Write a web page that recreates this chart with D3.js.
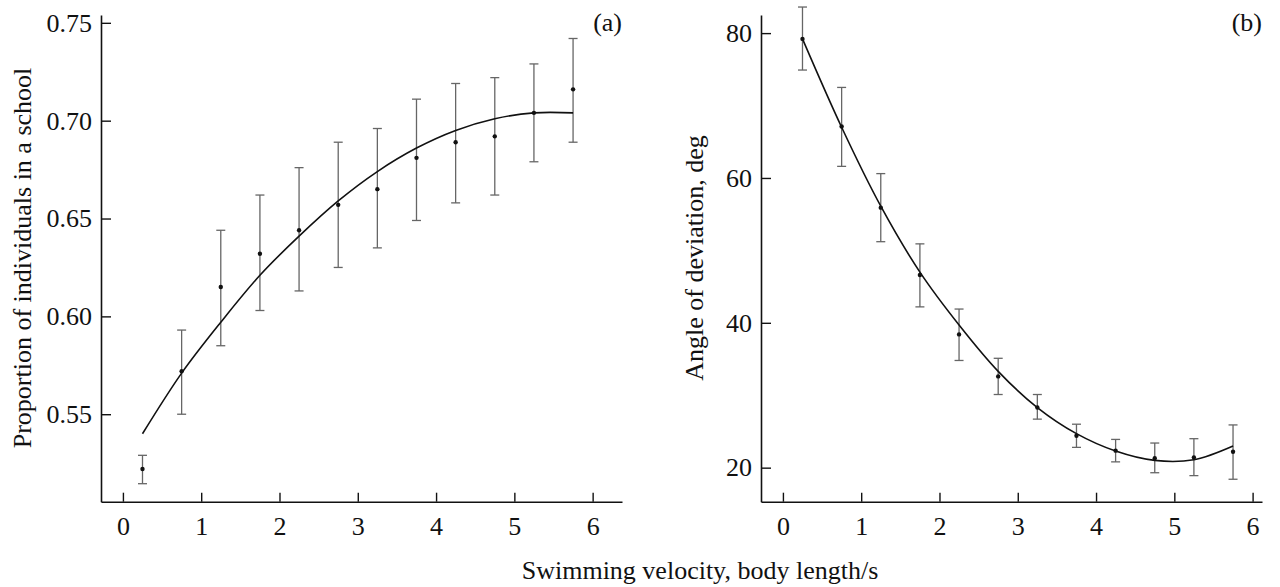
<!DOCTYPE html>
<html>
<head>
<meta charset="utf-8">
<script src="https://cdn.jsdelivr.net/npm/d3@7"></script>
<style>
  body { margin: 0; background: #fff; }
  svg text { font-family: "Liberation Serif", "Times New Roman", serif; fill: #111; }
</style>
</head>
<body>
<div id="chart"></div>
<script>
// swimming velocity (body length/s), same bins for both panels
let velocity = [0.25, 0.75, 1.25, 1.75, 2.25, 2.75, 3.25, 3.75, 4.25, 4.75, 5.25, 5.75]
let xTicks = [0, 1, 2, 3, 4, 5, 6]

// panel (a): proportion of individuals in a school
let propMean = [0.522, 0.572, 0.615, 0.632, 0.644, 0.657, 0.665, 0.681, 0.689, 0.692, 0.704, 0.716]
let propLow  = [0.5145, 0.550, 0.585, 0.603, 0.613, 0.625, 0.635, 0.649, 0.658, 0.662, 0.679, 0.689]
let propHigh = [0.529, 0.593, 0.644, 0.662, 0.676, 0.689, 0.696, 0.711, 0.719, 0.722, 0.729, 0.742]
let propFit  = [0.540, 0.571, 0.597, 0.621, 0.641, 0.659, 0.674, 0.686, 0.695, 0.701, 0.704, 0.704]
let propTicks = [0.55, 0.60, 0.65, 0.70, 0.75]

// panel (b): angle of deviation, deg
let angleMean = [79.2, 67.1, 55.9, 46.6, 38.4, 32.6, 28.3, 24.4, 22.35, 21.3, 21.4, 22.2]
let angleLow  = [74.9, 61.6, 51.2, 42.2, 34.8, 30.1, 26.7, 22.8, 20.8, 19.3, 18.9, 18.4]
let angleHigh = [83.6, 72.5, 60.6, 50.9, 41.9, 35.1, 30.1, 26.0, 23.9, 23.4, 24.0, 25.9]
let angleFit  = [79.2, 67.0, 56.1, 47.0, 39.7, 33.3, 28.3, 24.7, 22.3, 21.0, 21.1, 23.0]
let angleTicks = [20, 40, 60, 80]

let svgWidth = 1280, svgHeight = 587
let fontSize = 26

let svg = d3.select('#chart')
    .append('svg')
    .attr('width', svgWidth)
    .attr('height', svgHeight)

function panel(opts){
    let g = svg.append('g')

    let xScale = d3.scaleLinear()
        .domain([-0.28, opts.xMax])
        .range([opts.left, opts.right])

    let yScale = d3.scaleLinear()
        .domain(opts.yDomain)
        .range([501.7, 15])

    let rows = velocity.map((v, i) => ({x: v, m: opts.mean[i], lo: opts.low[i], hi: opts.high[i]}))

    // error bars with caps
    g.selectAll('.err')
        .data(rows)
        .join('line')
        .attr('x1', d => xScale(d.x))
        .attr('x2', d => xScale(d.x))
        .attr('y1', d => yScale(d.lo))
        .attr('y2', d => yScale(d.hi))
        .attr('stroke', '#666')
        .attr('stroke-width', 1.3)

    for(let key of ['lo', 'hi']){
        g.selectAll('.cap-' + key)
            .data(rows)
            .join('line')
            .attr('class', 'cap-' + key)
            .attr('x1', d => xScale(d.x) - 4.5)
            .attr('x2', d => xScale(d.x) + 4.5)
            .attr('y1', d => yScale(d[key]))
            .attr('y2', d => yScale(d[key]))
            .attr('stroke', '#666')
            .attr('stroke-width', 1.3)
    }

    // fitted curve
    g.append('path')
        .datum(velocity.map((v, i) => [v, opts.fit[i]]))
        .attr('fill', 'none')
        .attr('stroke', '#111')
        .attr('stroke-width', 1.6)
        .attr('d', d3.line()
            .x(d => xScale(d[0]))
            .y(d => yScale(d[1]))
            .curve(d3.curveCatmullRom))

    g.selectAll('circle')
        .data(rows)
        .join('circle')
        .attr('cx', d => xScale(d.x))
        .attr('cy', d => yScale(d.m))
        .attr('r', 2.2)
        .attr('fill', '#111')

    // axes, ticks point inward
    let xAxis = g.append('g')
        .attr('transform', 'translate(0,501.7)')
        .call(d3.axisBottom(xScale).tickValues(xTicks).tickFormat(d3.format('d'))
            .tickSizeInner(-9).tickSizeOuter(0).tickPadding(15))

    let yAxis = g.append('g')
        .attr('transform', `translate(${opts.left},0)`)
        .call(d3.axisLeft(yScale).tickValues(opts.yTicks).tickFormat(opts.fmt)
            .tickSizeInner(-10).tickSizeOuter(0).tickPadding(9))

    for(let ax of [xAxis, yAxis]){
        ax.select('.domain').attr('stroke', '#111').attr('stroke-width', 1.6)
        ax.selectAll('.tick line').attr('stroke', '#111').attr('stroke-width', 1.4)
        ax.selectAll('.tick text').style('font-size', fontSize + 'px')
            .style('font-family', '"Liberation Serif", serif').attr('fill', '#111')
    }

    g.append('text')
        .attr('x', opts.right)
        .attr('y', 31)
        .attr('text-anchor', 'end')
        .style('font-size', fontSize + 'px')
        .text(opts.tag)

    g.append('text')
        .attr('transform', `translate(${opts.titleX},258) rotate(-90)`)
        .attr('text-anchor', 'middle')
        .style('font-size', fontSize + 'px')
        .text(opts.yTitle)
}

panel({left: 101, right: 622, xMax: 6.375, yDomain: [0.5053, 0.754],
    mean: propMean, low: propLow, high: propHigh, fit: propFit,
    yTicks: propTicks, fmt: d3.format('.2f'), tag: '(a)', titleX: 31,
    yTitle: 'Proportion of individuals in a school'})

panel({left: 761, right: 1262, xMax: 6.12, yDomain: [15.3, 82.5],
    mean: angleMean, low: angleLow, high: angleHigh, fit: angleFit,
    yTicks: angleTicks, fmt: d3.format('d'), tag: '(b)', titleX: 703,
    yTitle: 'Angle of deviation, deg'})

svg.append('text')
    .attr('x', 700)
    .attr('y', 579)
    .attr('text-anchor', 'middle')
    .style('font-size', fontSize + 'px')
    .text('Swimming velocity, body length/s')
</script>
</body>
</html>
